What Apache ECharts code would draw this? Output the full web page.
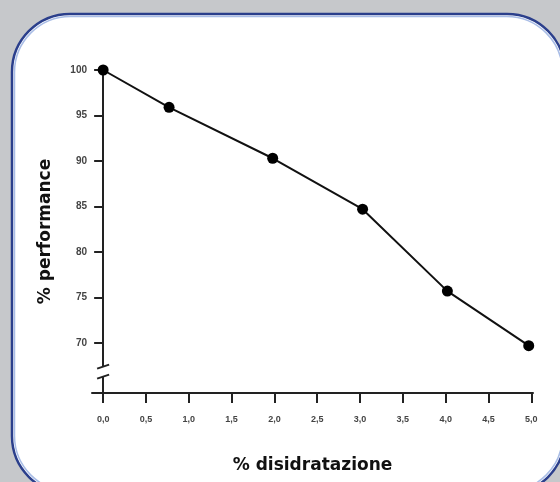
<!DOCTYPE html>
<html>
<head>
<meta charset="utf-8">
<script src="https://cdn.jsdelivr.net/npm/echarts@6/dist/echarts.min.js"></script>
<style>html,body{margin:0;padding:0;background:#c6c8cb;}#c{width:560px;height:482px;}</style>
</head>
<body>
<div id="c"></div>
<script>
var xValues = [0, 0.77, 1.98, 3.03, 4.02, 4.97];
var yValues = [100, 95.9, 90.3, 84.7, 75.7, 69.7];
var xTicks = [0, 0.5, 1, 1.5, 2, 2.5, 3, 3.5, 4, 4.5, 5];
var yTicks = [70, 75, 80, 85, 90, 95, 100];
var breakMark = [[0, 66.85]];
var xName = '% disidratazione';
var yName = '% performance';

var chart = echarts.init(document.getElementById('c'));
var fmt = function (v) { return v.toFixed(1).replace('.', ','); };
chart.setOption({
  backgroundColor: '#c6c8cb',
  animation: false,
  graphic: [
    { type: 'rect', z: -10, shape: { x: 12, y: 14, width: 553, height: 480, r: 58 },
      style: { fill: '#ffffff', stroke: '#2b3f8c', lineWidth: 2.5 } },
    { type: 'rect', z: -9, shape: { x: 14.5, y: 16.5, width: 548, height: 475, r: 56 },
      style: { fill: 'none', stroke: '#a9bde6', lineWidth: 1.5 } }
  ],
  grid: { left: 92, right: 27, top: 70, bottom: 89 },
  xAxis: {
    type: 'value', min: -0.13, max: 5.02,
    name: xName, nameLocation: 'middle', nameGap: 64,
    nameTextStyle: { fontFamily: 'DejaVu Sans', fontWeight: 'bold', fontSize: 17, color: '#111' },
    splitLine: { show: false },
    axisLine: { onZero: false, lineStyle: { color: '#222', width: 2 } },
    axisTick: { customValues: xTicks, length: 10, lineStyle: { color: '#222', width: 2 } },
    axisLabel: { customValues: xTicks, formatter: fmt, margin: 22, fontSize: 9, fontWeight: 'bold', color: '#444', fontFamily: 'Liberation Sans' }
  },
  yAxis: {
    type: 'value', min: 64.5, max: 100,
    name: yName, nameLocation: 'middle', nameGap: 38,
    nameTextStyle: { fontFamily: 'DejaVu Sans', fontWeight: 'bold', fontSize: 17, color: '#111' },
    splitLine: { show: false },
    axisLine: { onZero: true, lineStyle: { color: '#222', width: 2 } },
    axisTick: { customValues: yTicks, length: 9, lineStyle: { color: '#222', width: 2 } },
    axisLabel: { customValues: yTicks, margin: 5, fontSize: 10, fontWeight: 'bold', color: '#444', fontFamily: 'Liberation Sans' }
  },
  series: [
    {
      type: 'line',
      data: xValues.map(function (x, i) { return [x, yValues[i]]; }),
      symbol: 'circle', symbolSize: 11,
      itemStyle: { color: '#000' },
      lineStyle: { color: '#111', width: 2 },
      z: 3
    },
    {
      type: 'custom',
      data: breakMark,
      z: 4,
      renderItem: function (params, api) {
        var p = api.coord([api.value(0), api.value(1)]);
        var h = 5;
        return {
          type: 'group',
          children: [
            { type: 'rect', shape: { x: p[0] - 3, y: p[1] - h, width: 6, height: 2 * h }, style: { fill: '#fff' } },
            { type: 'line', shape: { x1: p[0] - 6, y1: p[1] - h + 2, x2: p[0] + 6, y2: p[1] - h - 2 }, style: { stroke: '#222', lineWidth: 2 } },
            { type: 'line', shape: { x1: p[0] - 6, y1: p[1] + h + 2, x2: p[0] + 6, y2: p[1] + h - 2 }, style: { stroke: '#222', lineWidth: 2 } }
          ]
        };
      }
    }
  ]
});
</script>
</body>
</html>
